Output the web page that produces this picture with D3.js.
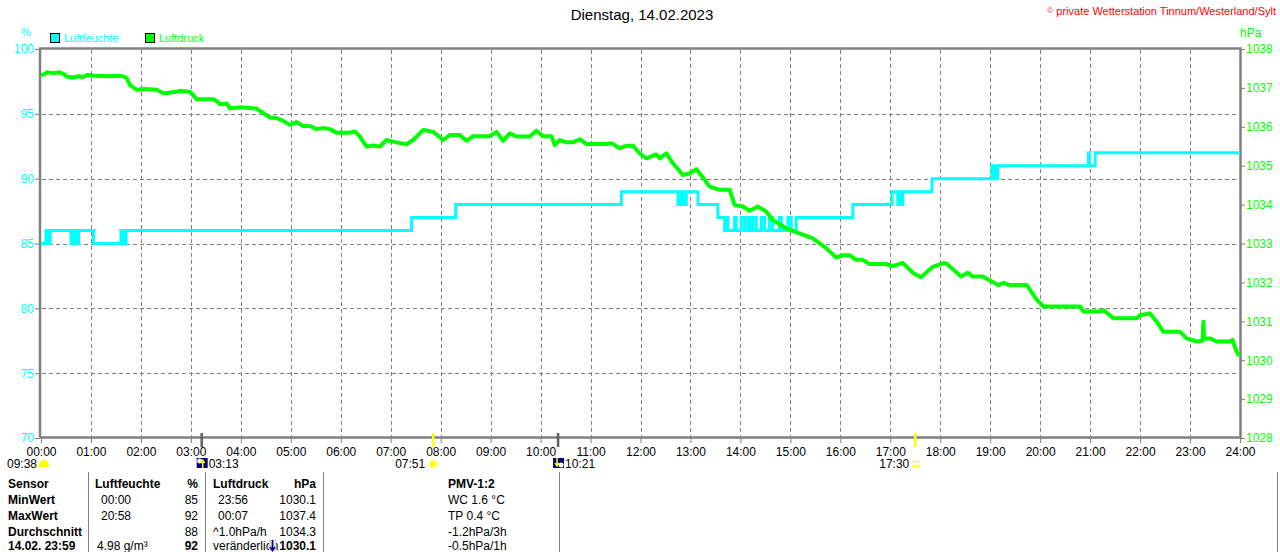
<!DOCTYPE html>
<html>
<head>
<meta charset="utf-8">
<script src="https://cdn.jsdelivr.net/npm/d3@7"></script>
<style>
  body { margin: 0; background: #fff; }
  svg { display: block; font-family: "Liberation Sans", Arial, sans-serif; }
</style>
</head>
<body>
<div id="chart"></div>
<script>
// humidity steps: [minute of day, %]
const humidity = [
  [0, 85], [6, 86], [7, 85], [8, 86], [10, 85], [11, 86], [36, 85], [37, 86], [39, 85], [42, 86], [44, 85], [45, 86],
  [63, 85], [96, 86], [98, 85], [100, 86], [101, 85], [102, 86], [445, 87], [498, 88], [697, 89],
  [765, 88], [767, 89], [769, 88], [771, 89], [773, 88], [775, 89], [789, 88], [813, 87],
  [821, 86], [823, 87], [825, 86], [833, 87], [835, 86], [841, 87], [845, 86], [849, 87], [850, 86], [852, 87],
  [853, 86], [855, 87], [859, 86], [865, 87], [869, 86], [875, 87], [879, 86], [887, 87], [889, 86], [897, 87],
  [901, 86], [907, 87], [975, 88], [1022, 89], [1029, 88], [1031, 89], [1033, 88], [1035, 89], [1070, 90],
  [1142, 91], [1144, 90], [1146, 91], [1148, 90], [1149, 91], [1258, 92], [1259, 91], [1266, 92], [1440, 92]
];

// air pressure: [minute of day, hPa]
const pressure = [
  [0, 1037.33], [5, 1037.36], [7, 1037.4], [15, 1037.38], [22, 1037.4], [27, 1037.36], [31, 1037.29], [40, 1037.27],
  [45, 1037.3], [51, 1037.28], [55, 1037.33], [65, 1037.31], [80, 1037.3], [95, 1037.31], [100, 1037.29], [103, 1037.25],
  [107, 1037.07], [115, 1036.95], [125, 1036.97], [139, 1036.95], [147, 1036.86], [155, 1036.88], [163, 1036.9],
  [167, 1036.92], [179, 1036.9], [187, 1036.71], [207, 1036.71], [211, 1036.66], [215, 1036.58], [223, 1036.6],
  [227, 1036.47], [240, 1036.5], [259, 1036.47], [267, 1036.35], [275, 1036.24], [283, 1036.22], [291, 1036.15],
  [299, 1036.05], [307, 1036.12], [315, 1036.02], [323, 1036.02], [331, 1035.94], [339, 1035.97], [347, 1035.94],
  [355, 1035.85], [371, 1035.85], [377, 1035.88], [383, 1035.75], [391, 1035.49], [399, 1035.52], [407, 1035.49],
  [415, 1035.66], [423, 1035.62], [431, 1035.58], [439, 1035.55], [447, 1035.66], [459, 1035.92], [471, 1035.87],
  [483, 1035.66], [491, 1035.79], [503, 1035.79], [511, 1035.64], [519, 1035.76], [539, 1035.76], [547, 1035.87],
  [555, 1035.64], [563, 1035.83], [571, 1035.75], [587, 1035.75], [595, 1035.9], [603, 1035.76], [613, 1035.76],
  [617, 1035.53], [623, 1035.66], [631, 1035.6], [639, 1035.6], [647, 1035.68], [655, 1035.56], [679, 1035.56],
  [685, 1035.58], [695, 1035.45], [703, 1035.51], [711, 1035.51], [719, 1035.32], [727, 1035.19], [739, 1035.29],
  [743, 1035.19], [751, 1035.32], [759, 1035.06], [771, 1034.76], [779, 1034.8], [787, 1034.91], [795, 1034.7],
  [803, 1034.46], [815, 1034.38], [827, 1034.38], [833, 1033.99], [843, 1033.95], [851, 1033.84], [861, 1033.95],
  [871, 1033.82], [879, 1033.6], [895, 1033.39], [911, 1033.26], [927, 1033.13], [943, 1032.88], [955, 1032.64],
  [963, 1032.7], [971, 1032.7], [979, 1032.58], [987, 1032.58], [995, 1032.47], [1015, 1032.47], [1023, 1032.42],
  [1035, 1032.5], [1047, 1032.25], [1057, 1032.13], [1071, 1032.4], [1083, 1032.49], [1087, 1032.49], [1099, 1032.27],
  [1105, 1032.15], [1113, 1032.25], [1119, 1032.15], [1131, 1032.15], [1140, 1032.04], [1150, 1031.93], [1156, 1031.99],
  [1164, 1031.93], [1184, 1031.93], [1188, 1031.8], [1196, 1031.55], [1204, 1031.38], [1248, 1031.38], [1252, 1031.25],
  [1272, 1031.25], [1276, 1031.29], [1288, 1031.08], [1316, 1031.08], [1320, 1031.16], [1332, 1031.2], [1340, 1030.99],
  [1348, 1030.73], [1368, 1030.73], [1376, 1030.56], [1388, 1030.48], [1395, 1030.5], [1396, 1030.99], [1397, 1030.56],
  [1404, 1030.56], [1412, 1030.48], [1428, 1030.48], [1431, 1030.52], [1436, 1030.22], [1439, 1030.11]
];

const hourTicks = [0, 60, 120, 180, 240, 300, 360, 420, 480, 540, 600, 660, 720, 780, 840, 900, 960, 1020, 1080, 1140, 1200, 1260, 1320, 1380, 1440];
const humTicks = [70, 75, 80, 85, 90, 95, 100];
const presTicks = [1028, 1029, 1030, 1031, 1032, 1033, 1034, 1035, 1036, 1037, 1038];

const moonPhase = "09:38";
const astroEvents = [
  { time: "03:13", type: "moonrise" },
  { time: "07:51", type: "sunrise" },
  { time: "10:21", type: "moonset" },
  { time: "17:30", type: "sunset" }
];

const tableHeader = ["Sensor", "Luftfeuchte", "%", "Luftdruck", "hPa"];
const tableRows = [
  ["MinWert", "00:00", "85", "23:56", "1030.1"],
  ["MaxWert", "20:58", "92", "00:07", "1037.4"],
  ["Durchschnitt", "", "88", "^1.0hPa/h", "1034.3"],
  ["14.02. 23:59", "4.98 g/m³", "92", "veränderlich", "1030.1"]
];
const pmvLines = ["PMV-1:2", "WC 1.6 °C", "TP 0.4 °C", "-1.2hPa/3h", "-0.5hPa/1h"];

function renderChart(selector) {
  const width = 1280,
    height = 552;
  const cyan = "#00ffff",
    green = "#00ff00",
    grey = "#808080";
  const font = "Liberation Sans, Arial, sans-serif";

  const x = d3.scaleLinear().domain([0, 1440]).range([41, 1240]);
  const yHum = d3.scaleLinear().domain([70, 100]).range([438, 49]);
  const yPres = d3.scaleLinear().domain([1028, 1038]).range([438, 49]);
  const toMin = (s) => +s.slice(0, 2) * 60 + +s.slice(3, 5);

  const svg = d3.select(selector).append("svg").attr("width", width).attr("height", height);
  svg.append("rect").attr("width", width).attr("height", height).attr("fill", "#fff");

  // title + copyright
  svg.append("text").attr("x", 642).attr("y", 20).attr("text-anchor", "middle").attr("font-size", 15).text("Dienstag, 14.02.2023");
  const copy = svg.append("text").attr("x", 1276).attr("y", 15).attr("text-anchor", "end").attr("font-size", 11).attr("fill", "#ff0000");
  copy.append("tspan").attr("font-size", 8).attr("dy", -2).text("©");
  copy.append("tspan").attr("dy", 2).text(" private Wetterstation Tinnum/Westerland/Sylt");

  // unit labels
  svg.append("text").attr("x", 26).attr("y", 36).attr("text-anchor", "middle").attr("font-size", 11).attr("fill", cyan).text("%");
  svg.append("text").attr("x", 1240).attr("y", 37).attr("font-size", 12).attr("fill", green).text("hPa");

  // legend
  const legend = svg.append("g").attr("font-size", 11);
  [["Luftfeuchte", cyan, 50], ["Luftdruck", green, 145]].forEach(([name, col, lx]) => {
    legend.append("rect").attr("x", lx + 0.5).attr("y", 33.5).attr("width", 9).attr("height", 9).attr("fill", col).attr("stroke", "#000");
    legend.append("text").attr("x", lx + 14).attr("y", 42).attr("fill", col).text(name);
  });

  // grid
  const grid = svg.append("g").attr("stroke", grey).attr("stroke-width", 1).attr("stroke-dasharray", "4,3");
  grid
    .selectAll("line.v")
    .data(hourTicks.slice(1, -1))
    .join("line")
    .attr("x1", (d) => Math.round(x(d)) + 0.5)
    .attr("x2", (d) => Math.round(x(d)) + 0.5)
    .attr("y1", 50)
    .attr("y2", 437);
  grid
    .selectAll("line.h")
    .data(humTicks.slice(1, -1))
    .join("line")
    .attr("x1", 42)
    .attr("x2", 1239)
    .attr("y1", (d) => Math.round(yHum(d)) + 0.5)
    .attr("y2", (d) => Math.round(yHum(d)) + 0.5);

  // axes
  const xAxis = svg
    .append("g")
    .attr("transform", "translate(0,438)")
    .call(d3.axisBottom(x).tickValues(hourTicks).tickSize(5).tickFormat((d) => d3.format("02")(d / 60) + ":00"));
  xAxis.select(".domain").remove();
  xAxis.selectAll(".tick line").attr("stroke", grey);
  xAxis.selectAll(".tick text").attr("y", 9).attr("font-size", 12).attr("font-family", font).attr("fill", "#000");

  const yAxisL = svg.append("g").attr("transform", "translate(40,0)").call(d3.axisLeft(yHum).tickValues(humTicks).tickSize(5));
  yAxisL.select(".domain").remove();
  yAxisL.selectAll(".tick line").attr("stroke", grey);
  yAxisL.selectAll(".tick text").attr("x", -6).attr("font-size", 12).attr("font-family", font).attr("fill", cyan);

  const yAxisR = svg
    .append("g")
    .attr("transform", "translate(1240,0)")
    .call(d3.axisRight(yPres).tickValues(presTicks).tickSize(5).tickFormat(d3.format("d")));
  yAxisR.select(".domain").remove();
  yAxisR.selectAll(".tick line").attr("stroke", grey);
  yAxisR.selectAll(".tick text").attr("x", 6).attr("font-size", 12).attr("font-family", font).attr("fill", green);

  // frame
  svg
    .append("path")
    .attr("d", "M40,437.5 V48.5 H1240.5 V437.5 H40")
    .attr("fill", "none")
    .attr("stroke", grey)
    .attr("stroke-width", 2.5);

  // series
  const humLine = d3
    .line()
    .curve(d3.curveStepAfter)
    .x((d) => x(d[0]))
    .y((d) => yHum(d[1]));
  svg.append("path").datum(humidity).attr("fill", "none").attr("stroke", cyan).attr("stroke-width", 3).attr("d", humLine);

  const presLine = d3
    .line()
    .x((d) => x(d[0]))
    .y((d) => yPres(d[1]));
  svg
    .append("path")
    .datum(pressure)
    .attr("fill", "none")
    .attr("stroke", green)
    .attr("stroke-width", 4)
    .attr("stroke-linejoin", "round")
    .attr("d", presLine);

  // sun / moon markers
  const astro = svg.append("g").attr("font-size", 12);
  astro.append("text").attr("x", 37).attr("y", 468).attr("text-anchor", "end").text(moonPhase);
  astro.append("path").attr("d", "M39,467 Q39,460 44,460 Q49,460 49,467 Z").attr("fill", "#ffff00");

  astroEvents.forEach((e) => {
    const px = x(toMin(e.time));
    const sun = e.type === "sunrise" || e.type === "sunset";
    astro
      .append("line")
      .attr("x1", px)
      .attr("x2", px)
      .attr("y1", 433)
      .attr("y2", 447)
      .attr("stroke", sun ? "#ffff00" : "#606060")
      .attr("stroke-width", 2.5);
    if (e.type === "sunrise") {
      astro.append("text").attr("x", px - 8).attr("y", 468).attr("text-anchor", "end").text(e.time);
      astro.append("circle").attr("cx", px).attr("cy", 464).attr("r", 3.5).attr("fill", "#ffff00");
      astro.append("circle").attr("cx", px).attr("cy", 464).attr("r", 5.5).attr("fill", "none").attr("stroke", "#ffff80").attr("stroke-dasharray", "1.5,1.5");
    } else if (e.type === "sunset") {
      astro.append("text").attr("x", px - 6).attr("y", 468).attr("text-anchor", "end").text(e.time);
      astro.append("rect").attr("x", px - 1.5).attr("y", 461.5).attr("width", 5).attr("height", 5).attr("fill", "none").attr("stroke", "#ffff00");
    } else {
      const up = e.type === "moonrise";
      const bx = px - 5;
      astro.append("rect").attr("x", bx).attr("y", 458).attr("width", 11).attr("height", 10).attr("fill", "#000080");
      astro.append("circle").attr("cx", up ? bx + 3 : bx + 8).attr("cy", up ? 461 : 465).attr("r", 2.5).attr("fill", "#fff");
      astro
        .append("path")
        .attr("d", up ? `M${bx + 6},468 V461 M${bx + 4},463 L${bx + 6},460 L${bx + 8},463` : `M${bx + 4},458 V465 M${bx + 2},463 L${bx + 4},466 L${bx + 6},463`)
        .attr("stroke", "#ffff00")
        .attr("stroke-width", 1.5)
        .attr("fill", "none");
      astro.append("text").attr("x", bx + 12).attr("y", 468).text(e.time);
    }
  });

  // table
  const table = svg.append("g").attr("font-size", 12).attr("fill", "#000");
  [88, 205, 323, 559, 1277].forEach((lx) => {
    table.append("line").attr("x1", lx + 0.5).attr("x2", lx + 0.5).attr("y1", 472).attr("y2", 552).attr("stroke", grey);
  });
  const rowY = [488, 504, 520, 536, 550];
  const cols = [
    { x: 8, anchor: "start" },
    { x: 101, anchor: "start" },
    { x: 198, anchor: "end" },
    { x: 218, anchor: "start" },
    { x: 316, anchor: "end" }
  ];
  tableHeader.forEach((t, i) => {
    const cx = i === 1 ? 95 : i === 3 ? 213 : cols[i].x;
    table.append("text").attr("x", cx).attr("y", rowY[0]).attr("text-anchor", cols[i].anchor).attr("font-weight", "bold").text(t);
  });
  tableRows.forEach((row, r) => {
    const last = r === tableRows.length - 1;
    row.forEach((t, i) => {
      let cx = cols[i].x;
      if (i === 3 && (r === 2 || last)) cx = 213;
      if (i === 1 && last) cx = 97;
      const bold = i === 0 || (last && (i === 2 || i === 4));
      table
        .append("text")
        .attr("x", cx)
        .attr("y", rowY[r + 1])
        .attr("text-anchor", cols[i].anchor)
        .attr("font-weight", bold ? "bold" : "normal")
        .text(t);
    });
  });
  // trend arrow icon
  table.append("rect").attr("x", 269).attr("y", 539).attr("width", 7).attr("height", 12).attr("fill", "#e0e0e0");
  table.append("path").attr("d", "M272.5,540 V550 M270,547 L272.5,550.5 L275,547").attr("stroke", "#000080").attr("stroke-width", 1.6).attr("fill", "none");

  pmvLines.forEach((t, i) => {
    table
      .append("text")
      .attr("x", 448)
      .attr("y", rowY[i])
      .attr("font-weight", i === 0 ? "bold" : "normal")
      .text(t);
  });
}

renderChart("#chart");
</script>
</body>
</html>
